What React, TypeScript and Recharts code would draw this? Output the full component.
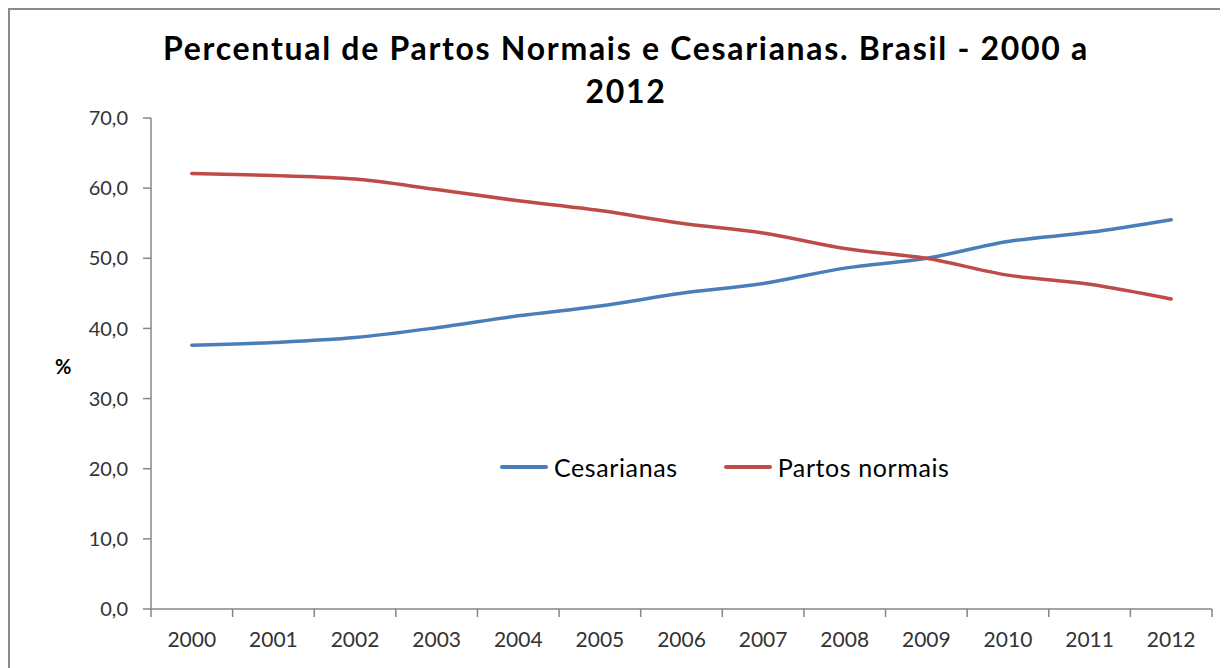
// Percentual de partos normais e cesarianas — Brasil 2000 a 2012
import { LineChart, Line, XAxis, YAxis } from 'recharts'

const years = ['2000', '2001', '2002', '2003', '2004', '2005', '2006', '2007', '2008', '2009', '2010', '2011', '2012']
const cesarianas = [37.6, 38.0, 38.7, 40.1, 41.8, 43.2, 45.0, 46.4, 48.6, 50.0, 52.4, 53.7, 55.5]
const partosNormais = [62.1, 61.8, 61.3, 59.8, 58.2, 56.8, 55.0, 53.6, 51.4, 50.0, 47.6, 46.3, 44.2]
const yTicks = [0, 10, 20, 30, 40, 50, 60, 70]

const series = [
  { key: 'ces', label: 'Cesarianas', color: '#4A7EBB' },
  { key: 'normal', label: 'Partos normais', color: '#BE4B48' },
]

const data = years.map((year, i) => ({
  idx: i,
  year,
  ces: cesarianas[i],
  normal: partosNormais[i],
}))

const labelTicks = years.map((_, i) => i)
// Excel-style category axis: tick marks sit between the categories
const markTicks = [...years.map((_, i) => i - 0.5), years.length - 0.5]
const xDomain = [-0.5, years.length - 0.5]

const AXIS = '#868686'
const TEXT = '#333'

const fmt = (v: number) => v.toFixed(1).replace('.', ',')

export default function App() {
  return (
    <div
      style={{
        position: 'relative',
        width: 1220,
        height: 660,
        borderLeft: `2px solid #8a8a8a`,
        borderTop: `2px solid #8a8a8a`,
        boxSizing: 'border-box',
        overflow: 'hidden',
        background: '#fff',
        fontFamily: 'Lato, "Open Sans", sans-serif',
      }}
    >
      <div
        style={{
          position: 'absolute',
          left: 616,
          top: 16,
          transform: 'translateX(-50%)',
          whiteSpace: 'nowrap',
          textAlign: 'center',
          fontWeight: 700,
          fontSize: 32,
          letterSpacing: 1.7,
          lineHeight: '43px',
          color: '#000',
        }}
      >
        Percentual de Partos Normais e Cesarianas. Brasil - 2000 a
        <br />
        2012
      </div>

      <LineChart width={1218} height={658} data={data} margin={{ top: 108, right: 16, bottom: 0, left: 0 }}>
        <XAxis
          xAxisId="a"
          type="number"
          dataKey="idx"
          domain={xDomain}
          allowDataOverflow
          ticks={markTicks}
          tickFormatter={() => ''}
          height={1}
          tickSize={8}
          axisLine={{ stroke: AXIS, strokeWidth: 1.5 }}
          tickLine={{ stroke: AXIS, strokeWidth: 1.5 }}
        />
        <XAxis
          xAxisId="b"
          type="number"
          dataKey="idx"
          domain={xDomain}
          allowDataOverflow
          ticks={labelTicks}
          tickFormatter={(i: number) => years[i]}
          height={58}
          tickSize={8}
          tickMargin={14}
          tickLine={false}
          axisLine={false}
          tick={{ fill: TEXT, fontSize: 21 }}
          interval={0}
        />
        <YAxis
          domain={[0, 70]}
          ticks={yTicks}
          tickFormatter={fmt}
          width={141}
          tickSize={8}
          tickMargin={15}
          axisLine={{ stroke: AXIS, strokeWidth: 1.5 }}
          tickLine={{ stroke: AXIS, strokeWidth: 1.5 }}
          tick={{ fill: TEXT, fontSize: 20 }}
          label={{ value: '%', position: 'insideLeft', offset: 45, dy: 3, fill: '#000', fontSize: 20, fontWeight: 700 }}
        />
        {series.map(s => (
          <Line
            key={s.key}
            xAxisId="b"
            type="monotone"
            dataKey={s.key}
            name={s.label}
            stroke={s.color}
            strokeWidth={3.5}
            strokeLinecap="round"
            dot={false}
            activeDot={false}
            isAnimationActive={false}
          />
        ))}
      </LineChart>

      <div
        style={{
          position: 'absolute',
          left: 490,
          top: 442,
          display: 'flex',
          alignItems: 'center',
          fontSize: 25,
          letterSpacing: 0.6,
          lineHeight: '30px',
          color: '#000',
        }}
      >
        {series.map((s, i) => (
          <div key={s.key} style={{ display: 'flex', alignItems: 'center', marginLeft: i === 0 ? 0 : 46 }}>
            <span style={{ display: 'inline-block', width: 48, height: 4, borderRadius: 2, background: s.color, marginRight: 6 }} />
            <span>{s.label}</span>
          </div>
        ))}
      </div>
    </div>
  )
}
